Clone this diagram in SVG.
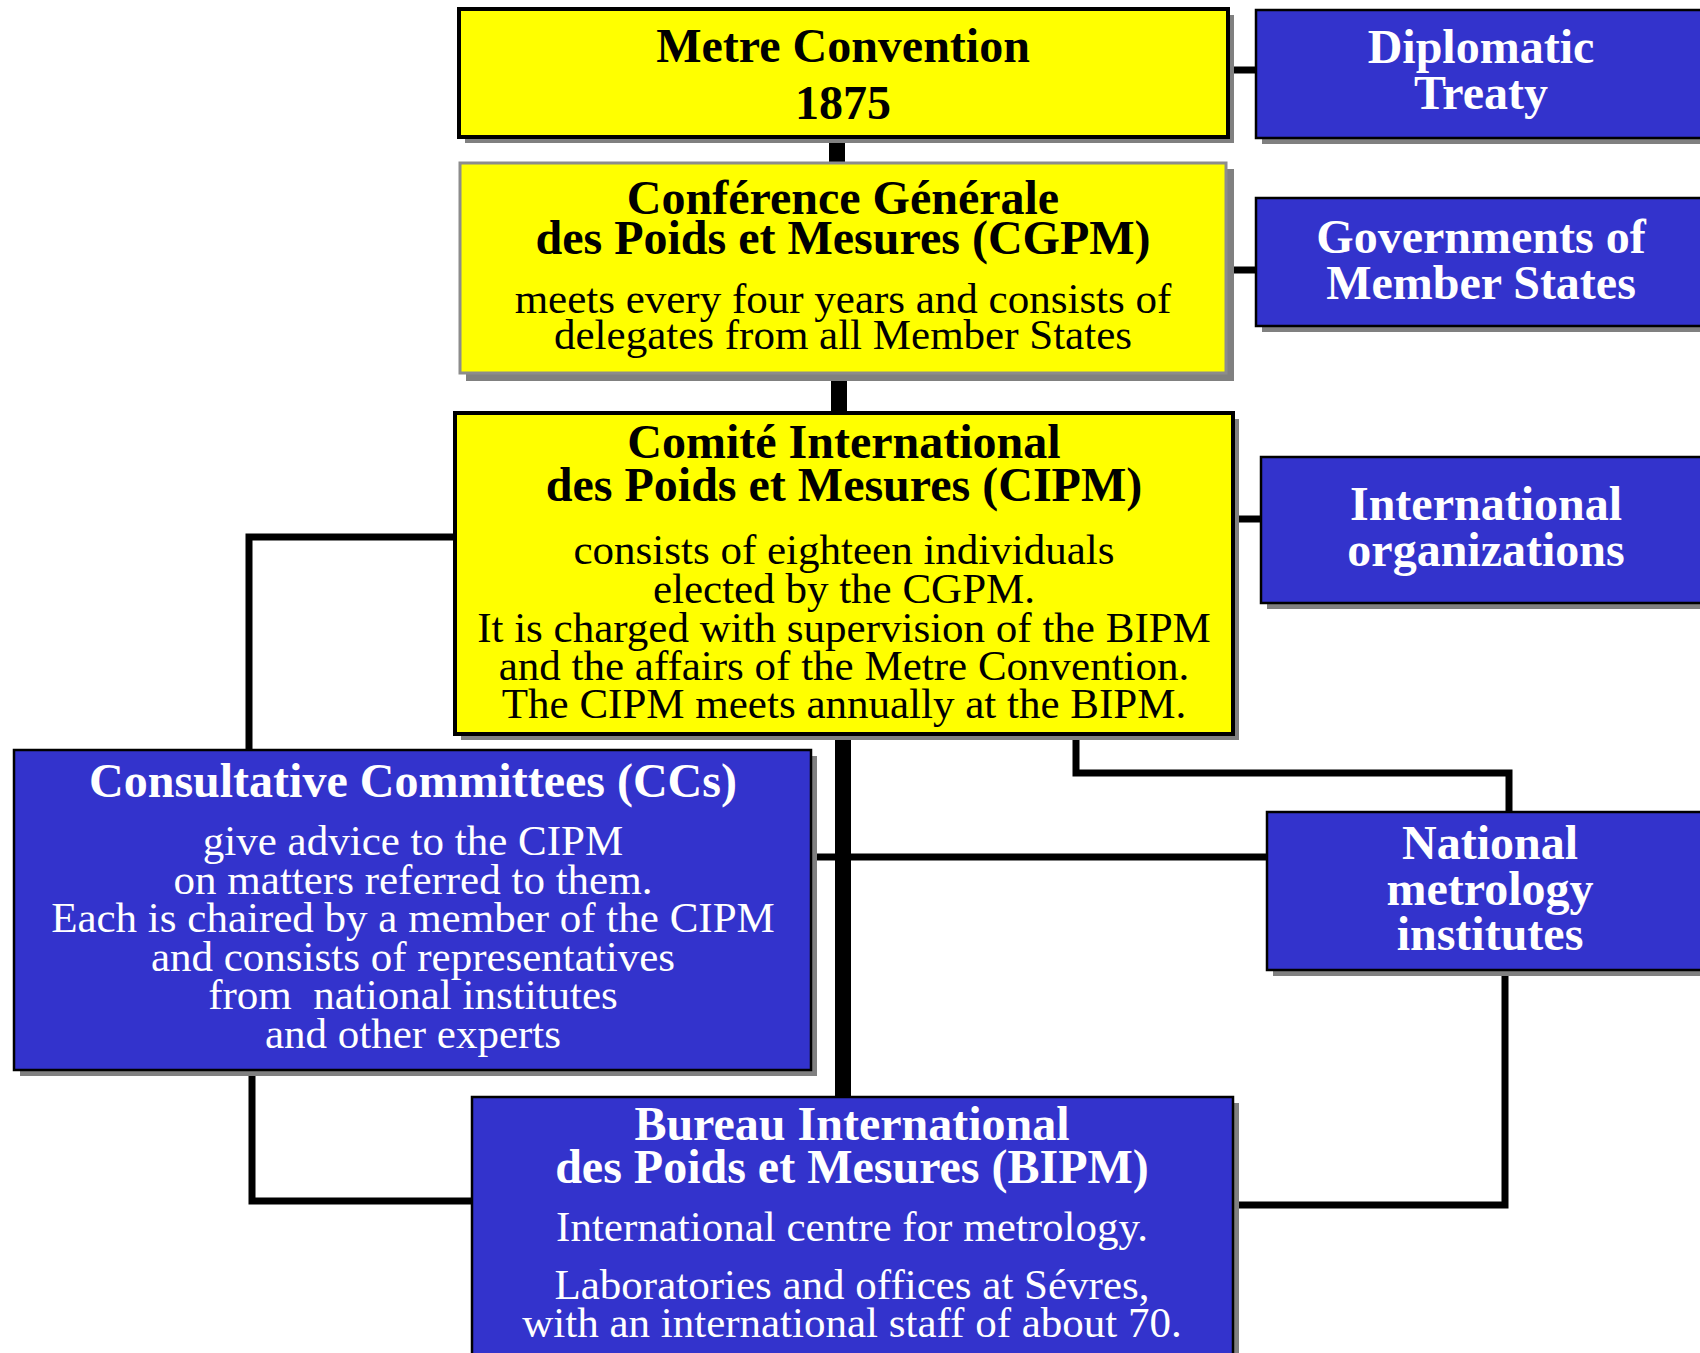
<svg xmlns="http://www.w3.org/2000/svg" width="1700" height="1353" viewBox="0 0 1700 1353">
<style>
.t{font-family:"Liberation Serif","Times New Roman",serif;text-anchor:middle;white-space:pre}
.h{font-size:48px;font-weight:bold}
.b{font-size:43px}
.k{fill:#000}
.w{fill:#fff}
.yel{fill:#ffff00}
.blu{fill:#3333cc;stroke:#000;stroke-width:2.5}
.sh{fill:#808080}
.thick{fill:none;stroke:#000;stroke-width:16}
.thin{fill:none;stroke:#000;stroke-width:7;stroke-linejoin:miter}
</style>
<rect width="1700" height="1353" fill="#fff"/>
<g id="connectors">
<line class="thick" x1="837" y1="137" x2="837" y2="163"/>
<line class="thick" x1="839" y1="373" x2="839" y2="413"/>
<line class="thick" x1="843" y1="734" x2="843" y2="1097"/>
<line class="thin" x1="1228" y1="70" x2="1256" y2="70"/>
<line class="thin" x1="1226" y1="270" x2="1256" y2="270"/>
<line class="thin" x1="1233" y1="519" x2="1261" y2="519"/>
<polyline class="thin" points="455,537 249,537 249,750"/>
<polyline class="thin" points="252,1070 252,1201 472,1201"/>
<polyline class="thin" points="1076,734 1076,773 1509,773 1509,812"/>
<line class="thin" x1="809" y1="857" x2="1267" y2="857"/>
<polyline class="thin" points="1505,970 1505,1205 1233,1205"/>
</g>
<g id="metre">
<rect class="sh" x="465" y="15" width="769" height="128"/>
<rect class="yel" x="459" y="9" width="769" height="128" stroke="#000" stroke-width="4"/>
<text class="t h k" x="843" y="62">Metre Convention</text>
<text class="t h k" x="843" y="119">1875</text>
</g>
<g id="diplomatic">
<rect class="sh" x="1262" y="16" width="460" height="128"/>
<rect class="blu" x="1256" y="10" width="460" height="128"/>
<text class="t h w" x="1481" y="63">Diplomatic</text>
<text class="t h w" x="1481" y="109">Treaty</text>
</g>
<g id="cgpm">
<rect class="sh" x="466" y="169" width="768" height="212"/>
<rect class="yel" x="460" y="163" width="766" height="210" stroke="#8c8c8c" stroke-width="3"/>
<text class="t h k" x="843" y="214">Conférence Générale</text>
<text class="t h k" x="843" y="254">des Poids et Mesures (CGPM)</text>
<text class="t b k" x="843" y="313">meets every four years and consists of</text>
<text class="t b k" x="843" y="349">delegates from all Member States</text>
</g>
<g id="governments">
<rect class="sh" x="1262" y="204" width="460" height="128"/>
<rect class="blu" x="1256" y="198" width="460" height="128"/>
<text class="t h w" x="1481" y="253">Governments of</text>
<text class="t h w" x="1481" y="299">Member States</text>
</g>
<g id="cipm">
<rect class="sh" x="461" y="419" width="778" height="321"/>
<rect class="yel" x="455" y="413" width="778" height="321" stroke="#000" stroke-width="4"/>
<text class="t h k" x="844" y="458">Comité International</text>
<text class="t h k" x="844" y="501">des Poids et Mesures (CIPM)</text>
<text class="t b k" x="844" y="564">consists of eighteen individuals</text>
<text class="t b k" x="844" y="603">elected by the CGPM.</text>
<text class="t b k" x="844" y="642">It is charged with supervision of the BIPM</text>
<text class="t b k" x="844" y="680">and the affairs of the Metre Convention.</text>
<text class="t b k" x="844" y="718">The CIPM meets annually at the BIPM.</text>
</g>
<g id="intl-org">
<rect class="sh" x="1267" y="463" width="450" height="146"/>
<rect class="blu" x="1261" y="457" width="450" height="146"/>
<text class="t h w" x="1486" y="520">International</text>
<text class="t h w" x="1486" y="566">organizations</text>
</g>
<g id="cc">
<rect class="sh" x="20" y="756" width="797" height="320"/>
<rect class="blu" x="14" y="750" width="797" height="320"/>
<text class="t h w" x="413" y="797">Consultative Committees (CCs)</text>
<text class="t b w" x="413" y="855">give advice to the CIPM</text>
<text class="t b w" x="413" y="894">on matters referred to them.</text>
<text class="t b w" x="413" y="932">Each is chaired by a member of the CIPM</text>
<text class="t b w" x="413" y="971">and consists of representatives</text>
<text class="t b w" x="413" y="1009">from  national institutes</text>
<text class="t b w" x="413" y="1048">and other experts</text>
</g>
<g id="nmi">
<rect class="sh" x="1273" y="818" width="440" height="158"/>
<rect class="blu" x="1267" y="812" width="440" height="158"/>
<text class="t h w" x="1490" y="859">National</text>
<text class="t h w" x="1490" y="905">metrology</text>
<text class="t h w" x="1490" y="950">institutes</text>
</g>
<g id="bipm">
<rect class="sh" x="478" y="1103" width="761" height="270"/>
<rect class="blu" x="472" y="1097" width="761" height="270"/>
<text class="t h w" x="852" y="1140">Bureau International</text>
<text class="t h w" x="852" y="1183">des Poids et Mesures (BIPM)</text>
<text class="t b w" x="852" y="1241">International centre for metrology.</text>
<text class="t b w" x="852" y="1299">Laboratories and offices at Sévres,</text>
<text class="t b w" x="852" y="1337">with an international staff of about 70.</text>
</g>
</svg>
